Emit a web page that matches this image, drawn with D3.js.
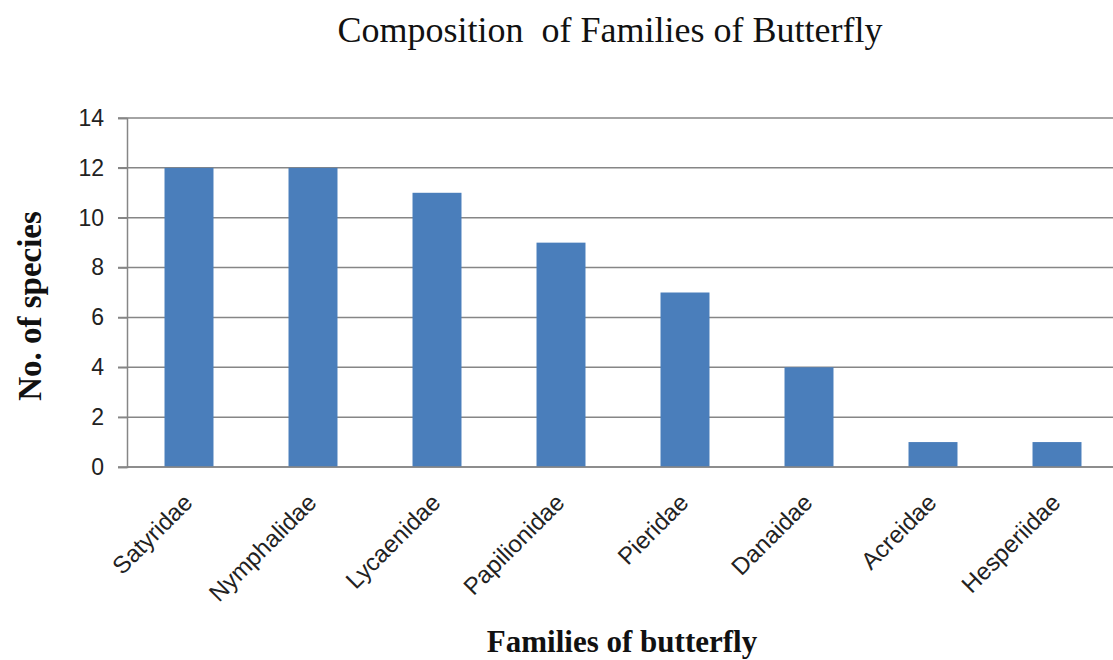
<!DOCTYPE html>
<html>
<head>
<meta charset="utf-8">
<script src="https://cdn.jsdelivr.net/npm/d3@7"></script>
<style>
    body { margin: 0; background: #fff; }
    svg { display: block; }
</style>
</head>
<body>
<div class="chart"></div>
<script>

// Chart data
var families = ["Satyridae", "Nymphalidae", "Lycaenidae", "Papilionidae", "Pieridae", "Danaidae", "Acreidae", "Hesperiidae"];
var species = [12, 12, 11, 9, 7, 4, 1, 1];
var yTicks = [0, 2, 4, 6, 8, 10, 12, 14];

var width = 1113, height = 660;
var margin = {top: 118, right: -6, bottom: 193, left: 127};

var svg = d3.select(".chart")
    .append("svg")
        .attr("width", width)
        .attr("height", height);

var x = d3.scaleBand()
    .domain(families)
    .range([margin.left, width - margin.right])
    .paddingInner(0.605)
    .paddingOuter(0.3025);

var y = d3.scaleLinear()
    .domain([0, 14])
    .range([height - margin.bottom, margin.top]);

// Horizontal gridlines
svg.append("g")
    .selectAll("line")
    .data(yTicks)
    .enter()
    .append("line")
    .attr("x1", margin.left - 9)
    .attr("x2", width - margin.right)
    .attr("y1", function(d) { return y(d); })
    .attr("y2", function(d) { return y(d); })
    .style("stroke", "#868686")
    .style("stroke-width", 1.5);

// Bars
svg.append("g")
    .selectAll("rect")
    .data(species)
    .enter()
    .append("rect")
    .attr("x", function(d, i) { return x(families[i]); })
    .attr("y", function(d) { return y(d); })
    .attr("width", x.bandwidth())
    .attr("height", function(d) { return y(0) - y(d); })
    .style("fill", "#4a7ebb");

// Y axis with tick labels
var yAxis = d3.axisLeft(y)
    .tickValues(yTicks)
    .tickSize(9)
    .tickPadding(14);

var gy = svg.append("g")
    .attr("transform", "translate(" + margin.left + ",0)")
    .call(yAxis);

gy.select(".domain").style("stroke", "#868686").style("stroke-width", 1.5);
gy.selectAll(".tick line").style("stroke", "#868686").style("stroke-width", 1.5);
gy.selectAll(".tick text")
    .style("font-family", "Liberation Sans, Arial, sans-serif")
    .style("font-size", "23px")
    .style("fill", "#222");

// X axis line
svg.append("line")
    .attr("x1", margin.left)
    .attr("x2", width - margin.right)
    .attr("y1", y(0))
    .attr("y2", y(0))
    .style("stroke", "#868686")
    .style("stroke-width", 1.5);

// Rotated category labels
svg.append("g")
    .selectAll("text")
    .data(families)
    .enter()
    .append("text")
    .attr("transform", function(d) {
        return "translate(" + (x(d) + x.bandwidth() / 2 + 5) + "," + (y(0) + 37) + ") rotate(-45)";
    })
    .attr("text-anchor", "end")
    .style("font-family", "Liberation Sans, Arial, sans-serif")
    .style("font-size", "24px")
    .style("fill", "#222")
    .text(function(d) { return d; });

// Titles
svg.append("text")
    .attr("x", 610)
    .attr("y", 42)
    .attr("text-anchor", "middle")
    .style("font-family", "Liberation Serif, Times New Roman, serif")
    .style("font-size", "36px")
    .style("fill", "#111")
    .style("white-space", "pre")
    .text("Composition  of Families of Butterfly");

svg.append("text")
    .attr("x", 622)
    .attr("y", 652)
    .attr("text-anchor", "middle")
    .style("font-family", "Liberation Serif, Times New Roman, serif")
    .style("font-size", "31px")
    .style("font-weight", "bold")
    .style("fill", "#111")
    .text("Families of butterfly");

svg.append("text")
    .attr("transform", "translate(41,306) rotate(-90)")
    .attr("text-anchor", "middle")
    .style("font-family", "Liberation Serif, Times New Roman, serif")
    .style("font-size", "33px")
    .style("font-weight", "bold")
    .style("fill", "#111")
    .text("No. of species");

</script>
</body>
</html>
